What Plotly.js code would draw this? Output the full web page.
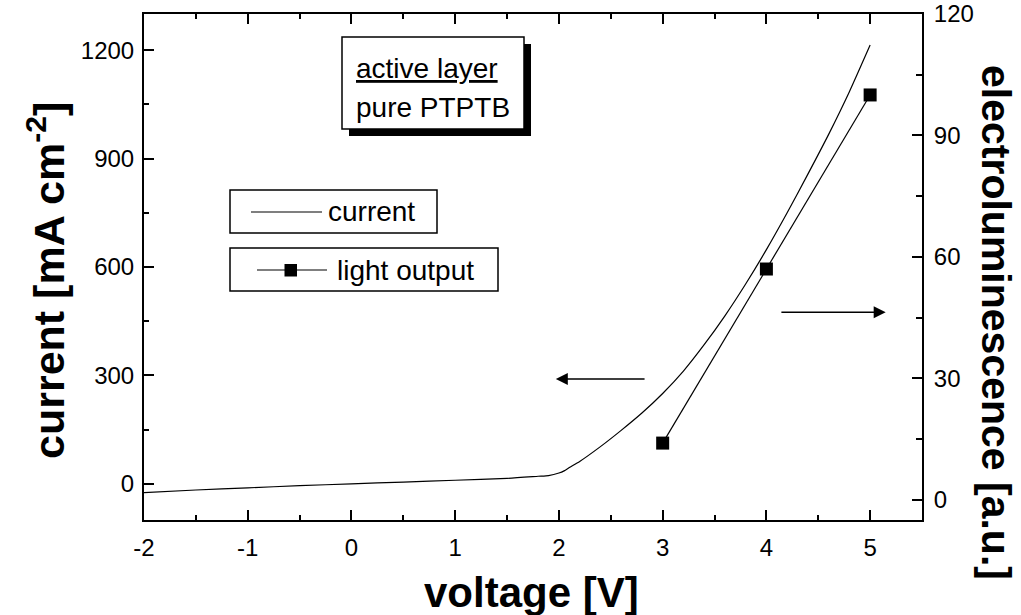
<!DOCTYPE html>
<html>
<head>
<meta charset="utf-8">
<script src="https://cdn.plot.ly/plotly-3.0.1.min.js"></script>
<style>
  html, body { margin: 0; padding: 0; background: #fff; }
  #chart { width: 1021px; height: 615px; }
</style>
</head>
<body>
<div id="chart"></div>
<script>
// Current density of the device vs. applied voltage (left axis)
const voltage = [-2, -1.5, -1, -0.5, 0, 0.5, 1, 1.5, 1.8, 1.9, 2.0, 2.05, 2.1, 2.2, 2.4, 2.6, 2.8, 3.0, 3.2, 3.4, 3.6, 3.8, 4.0, 4.2, 4.4, 4.6, 4.8, 5.0];
const currentDensity = [-24, -17, -11, -5, 0, 5, 10, 15, 21, 23, 30, 36, 45, 62, 103, 148, 196, 250, 312, 385, 465, 553, 648, 750, 857, 967, 1085, 1214];

// Electroluminescence (light output) vs. voltage (right axis)
const elVoltage = [3, 4, 5];
const elIntensity = [14, 57, 100];

// Axis tick values and labels
const xTicks = [-2, -1, 0, 1, 2, 3, 4, 5];
const xTickText = ['-2', '-1', '0', '1', '2', '3', '4', '5'];
const yTicks = [0, 300, 600, 900, 1200];
const y2Ticks = [0, 30, 60, 90, 120];

const W = 1021, H = 615, L = 144, R = 99, T = 14, B = 95;
const pw = W - L - R, ph = H - T - B;
const px = p => (p - L) / pw;          // pixel column -> paper x
const py = p => (H - B - p) / ph;      // pixel row -> paper y

const FONT = '"Liberation Sans", Arial, sans-serif';
const INK = '#000';

const traces = [
  {
    x: voltage, y: currentDensity, type: 'scatter', mode: 'lines',
    line: { color: INK, width: 1.2, shape: 'spline', smoothing: 0.6 },
    name: 'current', yaxis: 'y'
  },
  {
    x: elVoltage, y: elIntensity, type: 'scatter', mode: 'lines+markers',
    line: { color: INK, width: 1.2 },
    marker: { symbol: 'square', size: 13, color: INK },
    name: 'light output', yaxis: 'y2'
  }
];

const axisCommon = {
  showline: true, linecolor: INK, linewidth: 2,
  ticks: 'inside', ticklen: 10, tickwidth: 2, tickcolor: INK,
  showgrid: false, zeroline: false,
  tickfont: { family: FONT, size: 24, color: INK }
};

function rect(x0, y0, x1, y1, fill, lineW) {
  return {
    type: 'rect', xref: 'paper', yref: 'paper',
    x0: px(x0), x1: px(x1), y0: py(y1), y1: py(y0),
    fillcolor: fill, line: { color: INK, width: lineW }
  };
}
function hline(x0, x1, y, w) {
  return {
    type: 'line', xref: 'paper', yref: 'paper',
    x0: px(x0), x1: px(x1), y0: py(y), y1: py(y),
    line: { color: INK, width: w }
  };
}

const shapes = [
  // info box with drop shadow
  rect(349, 44, 531, 136, INK, 0),
  rect(342, 37, 524, 129, '#fff', 1.5),
  // legend boxes
  rect(230, 190, 437, 233, '#fff', 1.5),
  hline(251, 322, 212, 1.2),
  rect(230, 248, 498, 291, '#fff', 1.5),
  hline(257, 327, 270, 1.2),
  {
    type: 'rect', xref: 'paper', yref: 'paper',
    x0: px(284.5), x1: px(297), y0: py(276.5), y1: py(264),
    fillcolor: INK, line: { width: 0 }
  }
];

function label(text, x, y, size, extra) {
  return Object.assign({
    text: text, xref: 'paper', yref: 'paper', x: px(x), y: py(y),
    showarrow: false, font: { family: FONT, size: size, color: INK },
    xanchor: 'left', yanchor: 'middle'
  }, extra || {});
}

const annotations = [
  label('<u>active layer</u>', 354, 68, 28),
  label('pure PTPTB', 354, 107, 28),
  label('current', 326, 212, 28),
  label('light output', 335, 270, 28),
  // axis titles
  label('<b>current [mA cm<sup>-2</sup>]</b>', 46, 281, 43, { textangle: -90, xanchor: 'center' }),
  label('<b>voltage [V]</b>', 531, 592, 42, { xanchor: 'center' }),
  label('<b>electroluminescence [a.u.]</b>', 996, 322, 41, { textangle: 90, xanchor: 'center' }),
  // arrows pointing to the relevant axis
  {
    xref: 'x', yref: 'y', axref: 'x', ayref: 'y',
    x: 1.97, y: 290, ax: 2.84, ay: 290, text: '',
    showarrow: true, arrowhead: 2, arrowsize: 1.6, arrowwidth: 1.5, arrowcolor: INK
  },
  {
    xref: 'x', yref: 'y2', axref: 'x', ayref: 'y2',
    x: 5.15, y: 46.3, ax: 4.13, ay: 46.3, text: '',
    showarrow: true, arrowhead: 2, arrowsize: 1.6, arrowwidth: 1.5, arrowcolor: INK
  }
];

const layout = {
  width: W, height: H,
  margin: { l: L, r: R, t: T, b: B, pad: 0 },
  paper_bgcolor: '#fff', plot_bgcolor: '#fff',
  showlegend: false,
  xaxis: Object.assign({}, axisCommon, {
    range: [-2, 5.5], tickvals: xTicks, ticktext: xTickText, mirror: 'ticks',
    minor: { dtick: 0.5, tick0: 0, ticks: 'inside', ticklen: 5, tickwidth: 2, tickcolor: INK },
    ticklabelstandoff: 5
  }),
  yaxis: Object.assign({}, axisCommon, {
    range: [-100, 1300], tickvals: yTicks,
    minor: { dtick: 150, tick0: 0, ticks: 'inside', ticklen: 5, tickwidth: 2, tickcolor: INK },
    ticklabelstandoff: 3
  }),
  yaxis2: Object.assign({}, axisCommon, {
    range: [-5, 120], tickvals: y2Ticks, overlaying: 'y', side: 'right',
    minor: { dtick: 15, tick0: 0, ticks: 'inside', ticklen: 6, tickwidth: 2, tickcolor: INK },
    ticklabelstandoff: 5
  }),
  shapes: shapes,
  annotations: annotations
};

Plotly.newPlot('chart', traces, layout, { displayModeBar: false, staticPlot: true });
</script>
</body>
</html>
